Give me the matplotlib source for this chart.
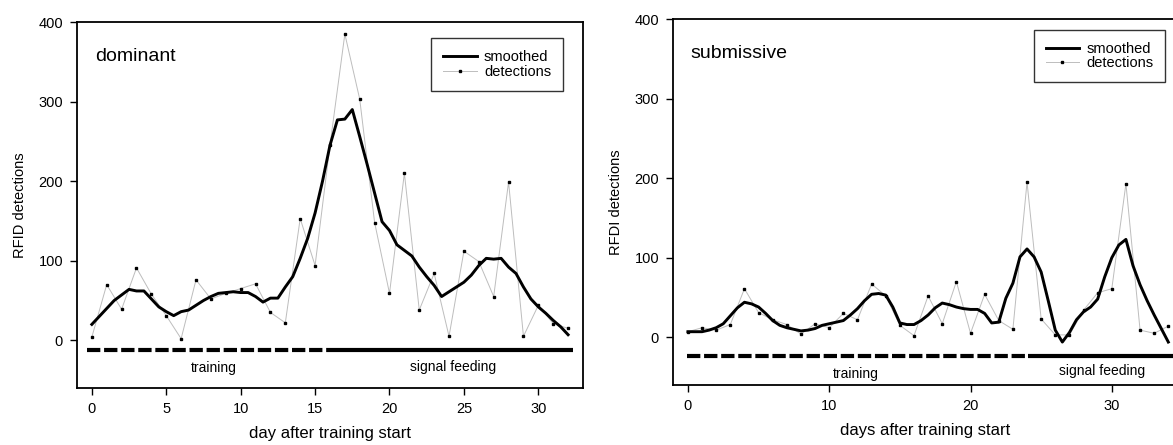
import matplotlib

matplotlib.use("Agg")
import matplotlib.pyplot as plt
import numpy as np
from matplotlib.lines import Line2D

plt.rcParams["font.family"] = ["Liberation Sans", "DejaVu Sans"]

# dominant: raw daily counts and smoothed curve (half-day steps)
dom_days = np.arange(0, 33)
dom_detect = [4, 70, 39, 91, 58, 31, 2, 76, 52, 59, 65, 71, 35, 22, 153, 94,
              245, 385, 303, 148, 59, 210, 38, 84, 5, 112, 99, 55, 199, 5, 44,
              21, 15]
dom_smooth_x = np.arange(0, 32.5, 0.5)
dom_smooth = [20, 30, 40, 50, 57, 64, 62, 62, 52, 42, 36, 31, 36, 38, 44, 50,
              55, 59, 60, 61, 60, 60, 55, 48, 53, 53, 67, 80, 103, 128, 160,
              200, 245, 277, 278, 290, 256, 221, 185, 149, 138, 120, 113, 106,
              92, 80, 69, 55, 61, 67, 73, 82, 94, 103, 102, 103, 92, 84, 67, 52,
              42, 34, 25, 17, 7]

# submissive
sub_days = np.arange(0, 35)
sub_detect = [7, 12, 9, 16, 61, 31, 22, 16, 4, 17, 12, 30, 22, 67, 52, 15, 2,
              52, 17, 70, 5, 54, 21, 10, 195, 23, 3, 3, 34, 56, 61, 193, 9, 5,
              14]
sub_smooth_x = np.arange(0, 34.5, 0.5)
sub_smooth = [7, 7, 7, 9, 12, 17, 27, 37, 44, 42, 38, 30, 21, 15, 12, 10, 8, 9,
              11, 15, 17, 19, 21, 28, 36, 46, 54, 55, 53, 38, 18, 16, 16, 21,
              28, 37, 43, 41, 38, 36, 35, 35, 30, 18, 19, 49, 68, 101, 111, 101,
              82, 46, 9, -6, 6, 22, 32, 38, 48, 76, 100, 116, 123, 90, 66, 46,
              28, 11, -6]

# phase bars: (start, switch, end, y)
dom_phase = (-0.3, 16.1, 32.3, -12)
sub_phase = (-0.1, 24.1, 35.0, -24)


def draw_panel(ax, days, detect, sx, smooth, phase, xticks, xlim,
               tag, ylabel, xlabel, train_xy, signal_xy, legend_anchor):
    ax.plot(days, detect, color="#bdbdbd", lw=0.7, zorder=2)
    ax.plot(days, detect, ls="none", marker="s", ms=2.0, color="black",
            zorder=3)
    ax.plot(sx, smooth, color="black", lw=2.1, zorder=4)

    start, switch, end, yb = phase
    ax.plot([start, switch], [yb, yb], color="black", lw=3.0,
            ls=(0, (3.2, 0.9)), solid_capstyle="butt", dash_capstyle="butt")
    ax.plot([switch, end], [yb, yb], color="black", lw=3.0,
            solid_capstyle="butt")
    ax.text(*train_xy, "training", ha="center", va="center", fontsize=10)
    ax.text(*signal_xy, "signal feeding", ha="center", va="center",
            fontsize=10)

    ax.text(0.035, 0.905, tag, transform=ax.transAxes, fontsize=14,
            ha="left", va="center")

    handles = [
        Line2D([], [], color="black", lw=2.1),
        Line2D([], [], color="#bdbdbd", lw=0.7, marker="s", ms=2.0,
               mfc="black", mec="black"),
    ]
    leg = ax.legend(handles, ["smoothed", "detections"], loc="upper right",
                    bbox_to_anchor=legend_anchor, fontsize=10.5,
                    frameon=True, fancybox=False, edgecolor="black",
                    handlelength=2.3, handletextpad=0.5, borderpad=0.8,
                    labelspacing=0.05, borderaxespad=0)
    leg.get_frame().set_linewidth(1.0)

    ax.set_xlim(*xlim)
    ax.set_ylim(-60, 400)
    ax.set_xticks(xticks)
    ax.set_yticks([0, 100, 200, 300, 400])
    ax.tick_params(direction="out", length=5, width=1.0, labelsize=10.5,
                   pad=5)
    for sp in ax.spines.values():
        sp.set_linewidth(1.3)
    ax.set_ylabel(ylabel, fontsize=10.5, labelpad=8)
    ax.set_xlabel(xlabel, fontsize=12, labelpad=7)


def main():
    fig = plt.figure(figsize=(11.73, 4.45), dpi=100)
    ax1 = fig.add_axes([0.0656, 0.128, 0.4314, 0.8225])
    ax2 = fig.add_axes([0.5737, 0.1348, 0.4305, 0.8225])

    draw_panel(ax1, dom_days, dom_detect, dom_smooth_x, dom_smooth, dom_phase,
               range(0, 31, 5), (-1, 33), "dominant", "RFID detections",
               "day after training start", (8.2, -35), (24.3, -33),
               (0.96, 0.955))
    draw_panel(ax2, sub_days, sub_detect, sub_smooth_x, sub_smooth, sub_phase,
               range(0, 31, 10), (-1.06, 34.68), "submissive",
               "RFDI detections", "days after training start", (11.9, -46),
               (29.3, -43), (0.975, 0.97))
    ax2.spines["right"].set_visible(False)

    fig.savefig("out.png", dpi=100)
    plt.close(fig)


if __name__ == "__main__":
    main()
